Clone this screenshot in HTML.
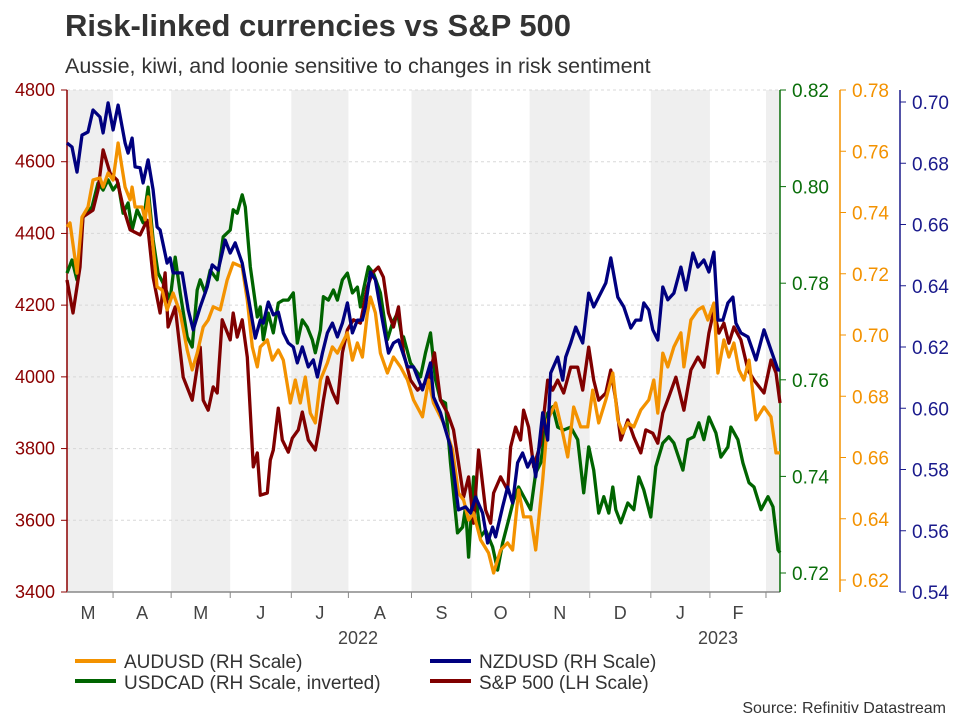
<!DOCTYPE html>
<html><head><meta charset="utf-8"><style>
body{margin:0;background:#fff;width:960px;height:720px;overflow:hidden;font-family:"Liberation Sans",sans-serif}
svg text{font-family:"Liberation Sans",sans-serif}
</style></head><body>
<svg id="c" width="960" height="720">
<text x="65" y="36" font-size="31" font-weight="bold" fill="#333">Risk-linked currencies vs S&amp;P 500</text>
<text x="65" y="73" font-size="21.5" fill="#333">Aussie, kiwi, and loonie sensitive to changes in risk sentiment</text>
<g id="bands"></g><g id="grid"></g><g id="axes"></g><g id="lines"></g>
<g>
<line x1="75" y1="661" x2="116" y2="661" stroke="#f39200" stroke-width="4"/><text x="124" y="668" font-size="19" fill="#333">AUDUSD (RH Scale)</text>
<line x1="75" y1="681" x2="116" y2="681" stroke="#006400" stroke-width="4"/><text x="124" y="689" font-size="19" fill="#333">USDCAD (RH Scale, inverted)</text>
<line x1="430" y1="661" x2="471" y2="661" stroke="#00007f" stroke-width="4"/><text x="479" y="668" font-size="19" fill="#333">NZDUSD (RH Scale)</text>
<line x1="430" y1="681" x2="471" y2="681" stroke="#800000" stroke-width="4"/><text x="479" y="689" font-size="19" fill="#333">S&amp;P 500 (LH Scale)</text>
</g>
<text x="946" y="713" font-size="16" fill="#333" text-anchor="end">Source: Refinitiv Datastream</text>
</svg>
<script>
const monthLabels=["M","A","M","J","J","A","S","O","N","D","J","F"];
const monthStarts=[0,46,104,163,224,281,344,404,462,522,583,642,698];
const shadedMonths=[0,2,4,6,8,10,12];
const spDays=[0,6,13,16,26,31,36,43,50,56,63,73,80,86,93,98,101,108,116,125,133,136,141,146,150,155,163,166,170,175,180,186,190,193,200,203,206,211,215,221,225,231,235,241,248,251,256,260,265,270,275,280,286,293,300,305,311,316,321,326,331,336,343,350,361,367,373,380,386,391,396,401,406,411,413,418,423,426,433,440,443,448,453,456,461,466,473,480,485,490,496,503,510,515,521,526,531,538,543,548,553,560,566,573,578,585,590,595,601,608,616,623,630,636,641,646,651,656,661,666,673,680,686,696,703,708,712];
const spVals=[4270,4178,4306,4446,4465,4521,4633,4568,4549,4474,4410,4396,4437,4278,4178,4290,4139,4195,3999,3935,4083,3935,3907,3972,3955,4159,4103,4178,4111,4159,4055,3749,3788,3670,3676,3768,3796,3913,3824,3790,3829,3852,3902,3824,3796,3843,3935,3999,3958,3927,4067,4131,4159,4150,4251,4290,4306,4278,4178,4139,4195,4067,3991,3963,3991,4067,3935,3899,3852,3760,3665,3721,3592,3796,3749,3629,3592,3676,3721,3684,3804,3860,3824,3907,3860,3749,3815,3991,3963,3991,3955,4027,4027,3963,4083,3991,3935,3955,4019,3935,3824,3880,3832,3788,3852,3843,3815,3899,3944,3999,3907,4019,4055,4027,4122,4186,4122,4150,4094,4139,4103,4019,3991,3955,4047,4011,3927];
const nzDays=[0,5,10,15,21,26,33,36,41,46,51,58,61,65,68,73,76,81,86,90,93,100,103,106,115,121,126,133,140,145,151,158,163,168,175,181,188,193,196,201,206,211,216,221,226,230,235,241,246,250,255,260,265,270,275,280,285,290,295,298,303,308,315,321,326,331,340,346,355,363,366,373,383,391,398,403,408,415,420,425,428,435,440,445,450,455,460,465,468,475,480,483,490,495,498,503,508,515,521,526,533,538,543,550,556,563,568,573,576,581,585,590,595,600,606,613,618,625,630,636,641,646,650,655,660,665,668,673,680,688,696,703,710,712];
const nzVals=[.6866,.6853,.6771,.6892,.6902,.6974,.6951,.6899,.6997,.6909,.6990,.6866,.6833,.6882,.6788,.6785,.6736,.6811,.6713,.6592,.6582,.6474,.6491,.6442,.6442,.6321,.6256,.6331,.6396,.6468,.6451,.6549,.6507,.6540,.6474,.6363,.6229,.6288,.6278,.6347,.6305,.6314,.6246,.6213,.6200,.6148,.6200,.6135,.6158,.6102,.6180,.6246,.6278,.6233,.6278,.6344,.6246,.6288,.6288,.6331,.6445,.6419,.6288,.6180,.6213,.6223,.6135,.6135,.6060,.6148,.6037,.5985,.5874,.5668,.5678,.5658,.5710,.5658,.5560,.5612,.5580,.5678,.5743,.5691,.5822,.5854,.5808,.5841,.5776,.5985,.5896,.6115,.6167,.6092,.6167,.6213,.6265,.6213,.6376,.6331,.6376,.6409,.6491,.6363,.6331,.6262,.6288,.6288,.6344,.6321,.6256,.6223,.6396,.6354,.6376,.6461,.6386,.6507,.6461,.6484,.6445,.6510,.6288,.6288,.6344,.6363,.6278,.6246,.6233,.6158,.6256,.6190,.6125,.6125];
const auDays=[0,3,10,15,21,26,33,36,41,46,51,58,63,65,68,75,78,81,86,90,95,100,106,113,120,125,130,136,141,146,153,160,166,175,180,185,190,193,200,205,211,216,223,228,233,238,243,248,253,260,265,270,275,280,285,290,295,300,303,308,313,320,326,333,340,346,355,361,366,376,385,391,396,401,406,413,421,426,433,440,445,451,456,463,468,475,480,488,495,500,506,513,520,525,531,538,545,550,555,560,566,573,581,586,590,595,600,606,613,616,623,630,635,640,646,650,656,661,666,671,676,681,688,696,703,708,712];
const auVals=[.7353,.7366,.7202,.7385,.7418,.7506,.7513,.7483,.7529,.7506,.7627,.7483,.7441,.7483,.7418,.7418,.7376,.7451,.7287,.7157,.7147,.7082,.7137,.7072,.6951,.6886,.6941,.7026,.7049,.7092,.7082,.7180,.7235,.7222,.7114,.6961,.6896,.6961,.6984,.6918,.6951,.6918,.6778,.6853,.6778,.6863,.6745,.6713,.6853,.6909,.6961,.6941,.6974,.7007,.6918,.6974,.6928,.7072,.7124,.7072,.6941,.6876,.6928,.6896,.6853,.6788,.6733,.6853,.6778,.6713,.6625,.6484,.6461,.6396,.6419,.6331,.6288,.6223,.6298,.6321,.6298,.6494,.6406,.6406,.6298,.6527,.6723,.6778,.6680,.6602,.6765,.6700,.6700,.6820,.6713,.6788,.6876,.6723,.6680,.6713,.6700,.6755,.6788,.6853,.6745,.6941,.6896,.6961,.7007,.6896,.7049,.7082,.7092,.7049,.7104,.6876,.6984,.6928,.6974,.6886,.6853,.6918,.6723,.6765,.6733,.6615,.6615];
const cadDays=[0,5,10,16,25,31,36,41,46,51,56,61,65,70,76,81,86,91,96,103,108,113,120,125,130,133,138,143,150,156,163,166,170,175,178,183,190,193,196,201,206,211,216,221,226,230,235,240,245,248,253,256,261,266,270,275,280,285,290,293,296,301,306,313,320,325,330,335,336,343,353,358,363,368,373,378,383,390,395,398,401,406,413,418,425,430,435,441,446,451,458,463,468,473,480,485,490,496,503,510,516,521,526,531,536,541,545,548,553,560,566,571,576,583,588,595,601,606,615,620,626,631,636,641,648,653,660,663,670,675,681,686,693,700,705,710,712];
const cadVals=[.7821,.7848,.7807,.7937,.7958,.8007,.7993,.8014,.7993,.8007,.7945,.7966,.7910,.7952,.7925,.7999,.7890,.7821,.7800,.7765,.7854,.7780,.7689,.7668,.7786,.7807,.7780,.7827,.7807,.7896,.7910,.7952,.7945,.7983,.7958,.7834,.7730,.7751,.7683,.7738,.7697,.7759,.7765,.7765,.7780,.7676,.7724,.7709,.7683,.7656,.7703,.7772,.7765,.7786,.7765,.7807,.7821,.7780,.7792,.7751,.7786,.7834,.7821,.7780,.7683,.7718,.7738,.7683,.7689,.7635,.7606,.7656,.7697,.7600,.7558,.7552,.7428,.7283,.7295,.7337,.7233,.7399,.7275,.7289,.7254,.7206,.7262,.7310,.7351,.7378,.7351,.7331,.7407,.7428,.7531,.7544,.7502,.7496,.7502,.7476,.7366,.7461,.7413,.7324,.7358,.7324,.7378,.7331,.7304,.7345,.7331,.7399,.7372,.7316,.7420,.7469,.7482,.7469,.7413,.7476,.7482,.7511,.7476,.7523,.7490,.7440,.7461,.7502,.7476,.7428,.7387,.7378,.7331,.7358,.7337,.7248,.7242];
const leftTicks=[3400,3600,3800,4000,4200,4400,4600,4800];
const cadTicks=[0.72,0.74,0.76,0.78,0.80,0.82];
const audTicks=[0.62,0.64,0.66,0.68,0.70,0.72,0.74,0.76,0.78];
const nzdTicks=[0.54,0.56,0.58,0.60,0.62,0.64,0.66,0.68,0.70];

const NS="http://www.w3.org/2000/svg";
const X0=67,X1=780,Y0=90,Y1=592,DMAX=712;
const xs=d=>X0+d/DMAX*(X1-X0);
const ySp=v=>Y1-(v-3400)/1400*(Y1-Y0);
const yCad=v=>573-(v-0.72)/0.10*(573-90);
const yAud=v=>580-(v-0.62)/0.16*(580-90);
const yNz=v=>592-(v-0.54)/0.16*(592-102);
function mk(tag,attrs,parent){const e=document.createElementNS(NS,tag);for(const k in attrs)e.setAttribute(k,attrs[k]);parent.appendChild(e);return e;}
const bands=document.getElementById('bands'),grid=document.getElementById('grid'),axes=document.getElementById('axes'),lines=document.getElementById('lines');
shadedMonths.forEach(i=>{const a=monthStarts[i],b=i+1<monthStarts.length?monthStarts[i+1]:DMAX;
 const r=mk('rect',{x:xs(a),y:Y0,width:xs(Math.min(b,DMAX))-xs(a),height:Y1-Y0,fill:'#efefef'},bands);
 
 });
leftTicks.forEach(v=>{const y=ySp(v);
 const l=mk('line',{x1:X0,x2:X1,y1:y,y2:y,stroke:'#d8d8d8','stroke-dasharray':'3,3'},grid);
 
 
 mk('line',{x1:X0-6,x2:X0,y1:y,y2:y,stroke:'#8b0000'},axes);
 const t=mk('text',{x:55,y:y+6,'font-size':18,fill:'#8b0000','text-anchor':'end'},axes);t.textContent=v;
 
 });
mk('line',{x1:X0,x2:X0,y1:Y0,y2:Y1,stroke:'#8b0000','stroke-width':1.5},axes);
mk('line',{x1:X0,x2:X1,y1:Y1,y2:Y1,stroke:'#888','stroke-width':1.5},axes);
monthStarts.slice(1).forEach(d=>mk('line',{x1:xs(d),x2:xs(d),y1:Y1,y2:Y1+6,stroke:'#888'},axes));
monthLabels.forEach((m,i)=>{const a=monthStarts[i],b=monthStarts[i+1];
 const t=mk('text',{x:(xs(a)+xs(Math.min(b,DMAX)))/2-(i==0?2:0),y:619,'font-size':18,fill:'#444','text-anchor':'middle'},axes);t.textContent=m;
 
 });
[["2022",358],["2023",718]].forEach(([s,x])=>{const t=mk('text',{x:x,y:644,'font-size':18,fill:'#444','text-anchor':'middle'},axes);t.textContent=s;
 
 });
function rightAxis(ax,ticks,yf,col,top,name){
 mk('line',{x1:ax,x2:ax,y1:top,y2:Y1,stroke:col,'stroke-width':1.5},axes);
 ticks.forEach(v=>{const y=yf(v);mk('line',{x1:ax,x2:ax+6,y1:y,y2:y,stroke:col},axes);
  const t=mk('text',{x:ax+12,y:y+7,'font-size':19,fill:col},axes);t.textContent=v.toFixed(2);
  
  });}
rightAxis(780,cadTicks,yCad,'#0a6e0a',90,'usdcad-tick-label');
rightAxis(840,audTicks,yAud,'#f39200',90,'audusd-tick-label');
rightAxis(900,nzdTicks,yNz,'#1a1a8c',90,'nzdusd-tick-label');
function series(days,vals,yf,col,name){
 const p=mk('path',{d:days.map((d,i)=>(i?'L':'M')+xs(d).toFixed(1)+','+yf(vals[i]).toFixed(1)).join(''),fill:'none',stroke:col,'stroke-width':3.3,'stroke-linejoin':'round'},lines);
 
 }
series(cadDays,cadVals,yCad,'#006400','usdcad-line');
series(spDays,spVals,ySp,'#800000','sp500-line');
series(auDays,auVals,yAud,'#f39200','audusd-line');
series(nzDays,nzVals,yNz,'#00007f','nzdusd-line');
</script>
</body></html>
